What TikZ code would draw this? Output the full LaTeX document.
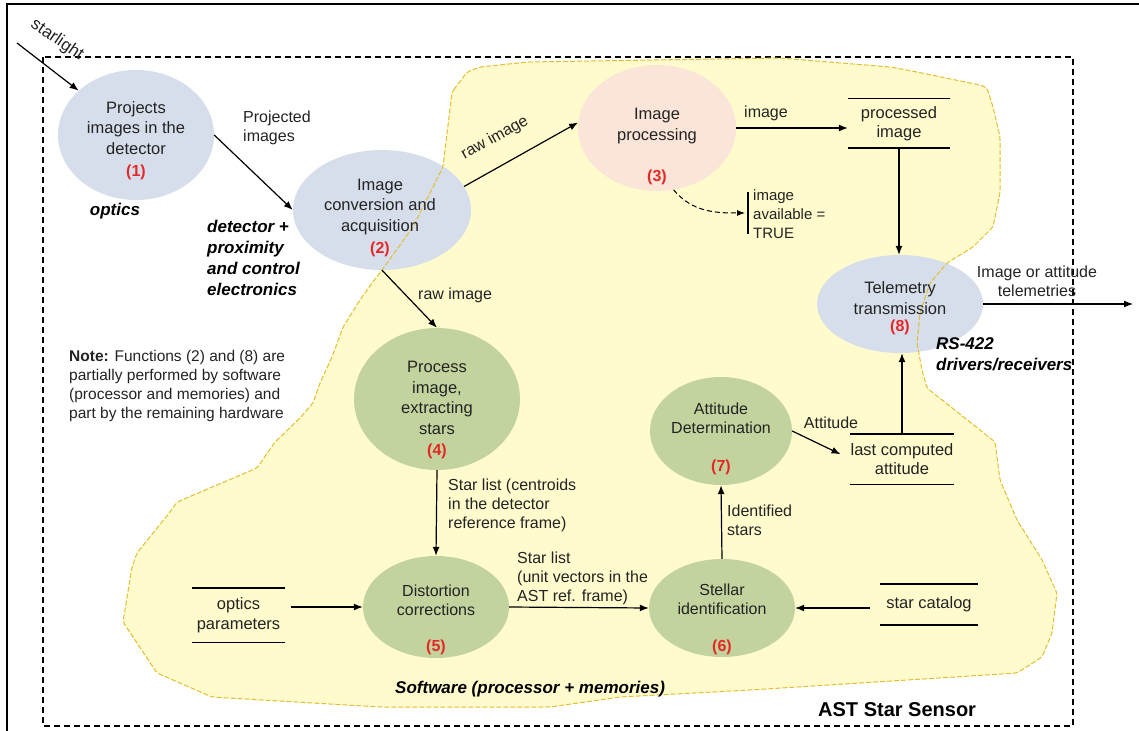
\documentclass[tikz,border=0pt]{standalone}
\usepackage{fontspec}
\setmainfont{Liberation Sans}
\usetikzlibrary{shapes.geometric,arrows.meta}
\definecolor{ellblue}{RGB}{214,222,235}
\definecolor{ellpink}{RGB}{251,228,216}
\definecolor{ellgreen}{RGB}{195,211,158}
\definecolor{blobfill}{RGB}{255,251,205}
\definecolor{blobedge}{RGB}{226,190,50}
\definecolor{numred}{RGB}{228,40,40}
\definecolor{txt}{RGB}{35,35,35}
\begin{document}
\begin{tikzpicture}[x=1pt,y=-1pt,
  ell/.style={ellipse, inner sep=0pt},
  eblue/.style={ell, fill=ellblue},
  epink/.style={ell, fill=ellpink},
  egreen/.style={ell, fill=ellgreen},
  etext/.style={align=center, text=txt, font=\fontsize{16.5}{20.5}\selectfont, inner sep=0pt},
  etexts/.style={align=center, text=txt, font=\fontsize{16}{19}\selectfont, inner sep=0pt},
  enum/.style={text=numred, font=\fontsize{16}{20}\selectfont\bfseries, inner sep=0pt},
  lbl/.style={align=left, text=txt, font=\fontsize{16}{19}\selectfont, inner sep=0pt},
  bilbl/.style={align=left, text=black, font=\fontsize{17}{21}\selectfont\bfseries\itshape, inner sep=0pt},
  store/.style={align=center, text=txt, font=\fontsize{16.5}{19.5}\selectfont, inner sep=0pt},
  arr/.style={-{Latex[length=9pt,width=7pt]}, line width=1.2pt, draw=black},
  storeline/.style={line width=1.4pt},
  dbox/.style={line width=1.4pt, dash pattern=on 6pt off 4pt}
]
\useasboundingbox (0,0) rectangle (1139,730);
% outer frame
\draw[line width=2.5pt] (7,745) -- (7,4) -- (1150,4);
% dashed sensor box
\draw[dbox] (43,57) rectangle (1073,726);
% software blob
\path[save path=\blobp, rounded corners=3pt] (452,92) -- (467,72) -- (480,67) -- (528,62) -- (780,58) -- (890,67) -- (907,70) -- (980,85) -- (987,88) -- (993,107) -- (1000,137) -- (1000,193) -- (993,227) -- (973,247) -- (947,263) -- (930,283) -- (920,313) -- (917,343) -- (922,370) -- (927,388) -- (980,430) -- (995,442) -- (1000,480) -- (1017,520) -- (1042,560) -- (1057,593) -- (1052,633) -- (1042,657) -- (1017,673) -- (860,683) -- (750,690) -- (620,697) -- (550,707) -- (380,707) -- (212,697) -- (157,673) -- (123,622) -- (132,567) -- (137,553) -- (170,512) -- (177,502) -- (257,468) -- (275,442) -- (300,418) -- (313,403) -- (320,383) -- (332,357) -- (343,327) -- (360,300) -- (372,283) -- (382,270) -- (413,227) -- (443,167) -- cycle;
\fill[blobfill, use path=\blobp];
% ellipses
\node[eblue, minimum width=156pt, minimum height=130pt] (e1) at (136,135) {};
\node[eblue, minimum width=178pt, minimum height=120pt] (e2) at (382,210) {};
\node[epink, minimum width=158pt, minimum height=126pt] (e3) at (657,128) {};
\node[egreen, minimum width=166pt, minimum height=142pt] (e4) at (437,399) {};
\node[egreen, minimum width=146pt, minimum height=102pt] (e5) at (436,607) {};
\node[egreen, minimum width=146pt, minimum height=98pt] (e6) at (722,608) {};
\node[egreen, minimum width=142pt, minimum height=108pt] (e7) at (721,431) {};
\node[eblue, minimum width=166pt, minimum height=98pt] (e8) at (900,304) {};
\draw[blobedge, line width=1pt, dash pattern=on 5pt off 2pt, use path=\blobp];
% ellipse texts
\node[etext] (t1) at (136,128) {Projects\\images in the\\detector};
\node[enum] (n1) at (136,172) {(1)};
\node[etext] (t2) at (380,207) {Image\\conversion and\\acquisition};
\node[enum] (n2) at (380,249) {(2)};
\node[etext] (t3) at (657,126) {Image\\processing};
\node[enum] (n3) at (657,177) {(3)};
\node[etext] (t4) at (437,398) {Process\\image,\\extracting\\stars};
\node[enum] (n4) at (437,451) {(4)};
\node[etexts] (t5) at (436,600) {Distortion\\corrections};
\node[enum] (n5) at (436,647) {(5)};
\node[etexts] (t6) at (722,599) {Stellar\\identification};
\node[enum] (n6) at (722,647) {(6)};
\node[etexts] (t7) at (721,418) {Attitude\\Determination};
\node[enum] (n7) at (721,467) {(7)};
\node[etext] (t8) at (900,298) {Telemetry\\transmission};
\node[enum] (n8) at (900,327) {(8)};
% stores
\node[store, minimum width=102pt, minimum height=49pt] (ps) at (899,123.5) {processed\\image};
\draw[storeline] (ps.north west) -- (ps.north east);
\draw[storeline, line width=2pt] (ps.south west) -- (ps.south east);
\node[store, minimum width=101pt, minimum height=50pt] (lca) at (902,459) {last computed\\attitude};
\draw[storeline] (lca.north west) -- (lca.north east);
\draw[storeline] (lca.south west) -- (lca.south east);
\node[store, minimum width=98pt, minimum height=41pt] (sc) at (929,604.5) {star catalog};
\draw[storeline] (sc.north west) -- (sc.north east);
\draw[storeline, line width=2pt] (sc.south west) -- (sc.south east);
\node[store, minimum width=93pt, minimum height=54pt] (op) at (238.5,615) {optics\\parameters};
\draw[storeline] (op.north west) -- (op.north east);
\draw[storeline] (op.south west) -- (op.south east);
% availability flag
\coordinate (bt) at (748,192);
\coordinate (bb) at (748,234);
\coordinate (avin) at (745,213);
\draw[line width=2.2pt] (bt) -- (bb);
\node[lbl, anchor=west, font=\fontsize{15}{19}\selectfont] (av) at (753,214) {image\\available =\\TRUE};
% connectors
\coordinate (sl) at (17,43);
\coordinate (out) at (1133,304);
\draw[arr] (sl) -- (e1);
\draw[arr] (e1.east) -- (e2.west);
\draw[arr] (e2.16) -- (e3.176);
\draw[arr] (e2.south) -- (e4.north);
\draw[arr] (e3.east) -- (e3.east -| ps.west);
\draw[-{Latex[length=8pt,width=6pt]}, line width=1pt, dash pattern=on 5pt off 3pt] (e3.-75) to[out=-50,in=180] (avin);
\draw[arr] (ps.south) -- (ps.south |- e8.north);
\draw[arr] (e8.east) -- (out);
\draw[arr] (lca.north) -- (lca.north |- e8.south);
\draw[arr, shorten >=11pt] (e7.east) -- (lca.west);
\draw[arr] (e6.north) -- (e7.south);
\draw[arr, shorten <=10pt] (sc.west |- e6.east) -- (e6.east);
\draw[arr] (e4.south) -- (e5.north);
\draw[arr] (e5.east) -- (e6.west);
\draw[arr, shorten <=6pt] (op.east |- e5.west) -- (e5.west);
% labels
\node[lbl, rotate=-34, font=\fontsize{17}{20}\selectfont] (lsl) at (57,40) {starlight};
\node[lbl, anchor=west] (lproj) at (243,128) {Projected\\images};
\node[bilbl] (lopt) at (115,211) {optics};
\node[bilbl, anchor=west] (ldet) at (207,258) {detector +\\proximity\\and control\\electronics};
\node[lbl, rotate=29] (lraw1) at (495,138) {raw image};
\node[lbl, anchor=west] (lraw2) at (418,295) {raw image};
\node[lbl] (limg) at (766,113) {image};
\node[lbl, align=center] (ltel) at (1037,281) {Image or attitude\\telemetries};
\node[bilbl, anchor=west] (lrs) at (936,354) {RS-422\\drivers/receivers};
\node[lbl, anchor=west, font=\fontsize{15.5}{19}\selectfont] (note) at (69,386) {\textbf{Note:} Functions (2) and (8) are\\partially performed by software\\(processor and memories) and\\part by the remaining hardware};
\node[lbl] (latt) at (831,423) {Attitude};
\node[lbl, anchor=west] (lid) at (727,520) {Identified\\stars};
\node[lbl, anchor=west] (lsl1) at (448,505) {Star list (centroids\\in the detector\\reference frame)};
\node[lbl, anchor=west] (lsl2) at (517,578) {Star list\\(unit vectors in the\\AST ref. frame)};
\node[bilbl, anchor=west] (lsw) at (395,689) {Software (processor + memories)};
\node[anchor=west, inner sep=0pt, font=\fontsize{20}{24}\selectfont\bfseries] (last) at (818,710) {AST Star Sensor};
\end{tikzpicture}
\end{document}
